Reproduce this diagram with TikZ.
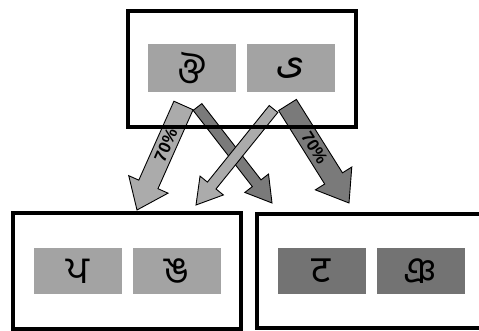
\documentclass[tikz,border=0pt]{standalone}
\usepackage{fontspec}
\setmainfont{Liberation Sans}
\newfontfamily\bengali[Script=Bengali]{Hind Siliguri}
\newfontfamily\gurmukhi[Script=Gurmukhi]{Hind Jalandhar}
\newfontfamily\devanagari[Script=Devanagari]{Noto Sans}
\newfontfamily\arabicfont[Script=Arabic]{DejaVu Sans}
\TeXXeTstate=1
\usetikzlibrary{calc}

\definecolor{grisclair}{gray}{0.64}
\definecolor{grisfonce}{gray}{0.45}
\definecolor{flecheclair}{gray}{0.67}
\definecolor{flechefonce}{gray}{0.48}

% grosse fleche : depart, pointe, demi-corps, demi-tete, longueur tete, style
\newcommand{\fleche}[6]{%
  \path ($(#2)!#5!(#1)$) coordinate (#1b);
  \draw[#6] ($(#1)!#3!90:(#2)$) -- ($(#1b)!#3!90:(#2)$)
    -- ($(#1b)!#4!90:(#2)$) -- (#2)
    -- ($(#1b)!#4!-90:(#2)$) -- ($(#1b)!#3!-90:(#2)$)
    -- ($(#1)!#3!-90:(#2)$) -- cycle;}

\begin{document}
\begin{tikzpicture}[x=1pt,y=1pt]
  \tikzstyle{cadre}=[draw=black, line width=3.4pt, inner sep=0pt, outer sep=0pt]
  \tikzstyle{case}=[inner sep=0pt, minimum width=88pt, text=black,
                    font=\fontsize{38}{38}\selectfont]
  \tikzstyle{fleche}=[draw=black, line width=0.9pt, line join=miter]
  \tikzstyle{pourcent}=[font=\bfseries\fontsize{17}{17}\selectfont, inner sep=0pt]
  \useasboundingbox (0,0) rectangle (479,331);

  % depart et pointe des fleches
  \coordinate (a1) at (183.5,225.5); \coordinate (a2) at (137,121);
  \coordinate (b1) at (197.5,224);   \coordinate (b2) at (272,128);
  \coordinate (c1) at (273.5,222);   \coordinate (c2) at (196,126);
  \coordinate (d1) at (287.5,226);   \coordinate (d2) at (349,128);

  \fleche{a1}{a2}{10.5pt}{21.5pt}{28pt}{fleche, fill=flecheclair}
  \fleche{b1}{b2}{5.5pt}{15pt}{25pt}{fleche, fill=flechefonce}
  \fleche{c1}{c2}{5.5pt}{15pt}{25pt}{fleche, fill=flecheclair}
  \fleche{d1}{d2}{10.5pt}{21.5pt}{29pt}{fleche, fill=flechefonce}
  \path (a1) -- node[pourcent, sloped, pos=.38] {70\%} (a2);
  \path (d1) -- node[pourcent, sloped, pos=.44] {70\%} (d2);

  % les trois cadres
  \node[cadre, minimum width=228pt, minimum height=116pt] (haut) at (242,262) {};
  \node[cadre, minimum width=228pt, minimum height=116pt] (gauche) at (127,60) {};
  \node[cadre, minimum width=228pt, minimum height=114pt] (droite) at (371,60) {};

  \node[case, fill=grisclair, minimum height=48pt] (h1) at (192,263) {\bengali ঔ};
  \node[case, fill=grisclair, minimum height=48pt] (h2) at (290.5,263) {\arabicfont\beginR ی\endR};
  \node[case, fill=grisclair, minimum height=46pt] (g1) at (78,60) {\gurmukhi ਪ};
  \node[case, fill=grisclair, minimum height=46pt] (g2) at (176.5,60) {\bengali ঙ};
  \node[case, fill=grisfonce, minimum height=46pt] (d1) at (321.5,60) {\devanagari ट};
  \node[case, fill=grisfonce, minimum height=46pt] (d2) at (420.5,60) {\bengali ঞ};
\end{tikzpicture}
\end{document}
